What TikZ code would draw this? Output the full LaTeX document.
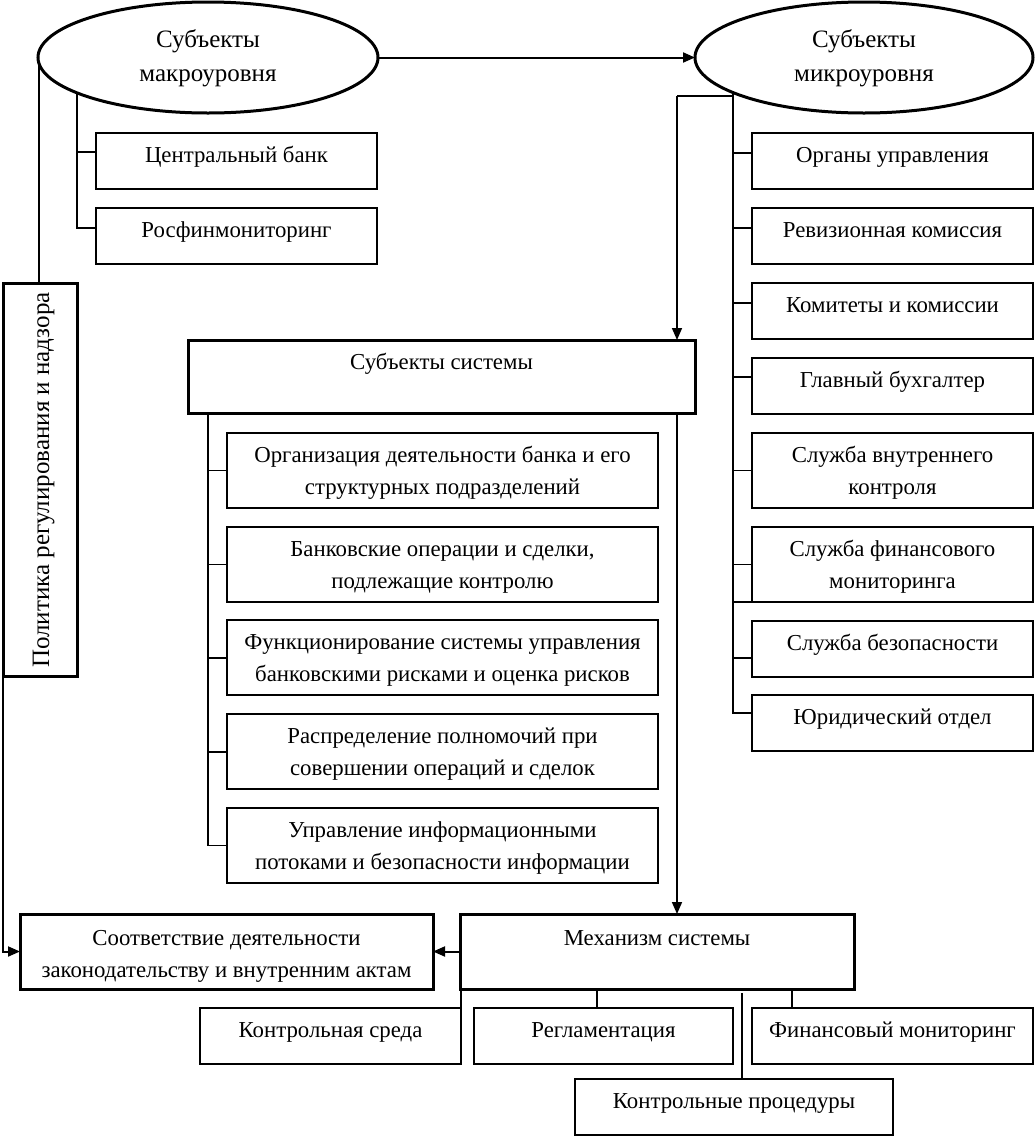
\documentclass[tikz,border=0pt]{standalone}
\usepackage{fontspec}
\setmainfont{Liberation Serif}
\usetikzlibrary{arrows.meta,shapes.geometric}
\newcommand\mkbox[6]{%
  \node[#1, minimum width={(#5)-(#3)}, minimum height={(#6)-(#4)}] (#2) at ({((#3)+(#5))/2},{((#4)+(#6))/2}) {};}
\begin{document}
\begin{tikzpicture}[x=1pt,y=-1pt,
  box/.style={draw, rectangle, line width=1.8pt, inner sep=0pt, outer sep=0pt},
  tbox/.style={box, line width=3pt},
  ell/.style={draw, ellipse, line width=3pt, inner sep=0pt, outer sep=0pt, align=center,
    minimum height=111pt, font=\fontsize{25}{34}\selectfont},
  lbl/.style={inner sep=0pt, align=center, font=\fontsize{22.8}{32}\selectfont},
  ln/.style={line width=2pt},
  thinln/.style={line width=1.2pt},
  arr/.style={line width=2pt, -{Triangle[length=12pt,width=10pt]}}]
\useasboundingbox (0,0) rectangle (1035,1136);

% ellipses
\node[ell, minimum width=340pt] (mac) at (208,57.5) {\strut Субъекты\\\strut макроуровня};
\node[ell, minimum width=338pt] (mic) at (864,57.5) {\strut Субъекты\\\strut микроуровня};

% macro level boxes
\mkbox{box}{cb}{96}{133}{377}{189}
\mkbox{box}{rfm}{96}{208}{377}{264}
\mkbox{tbox}{pol}{3}{283}{77}{676}

% micro level boxes
\mkbox{box}{org}{752}{133}{1033}{189}
\mkbox{box}{rev}{752}{208}{1033}{264}
\mkbox{box}{kom}{752}{283}{1033}{339}
\mkbox{box}{gb}{752}{358}{1033}{414}
\mkbox{box}{svk}{752}{433}{1033}{508}
\mkbox{box}{sfm}{752}{527}{1033}{602}
\mkbox{box}{sb}{752}{621}{1033}{677}
\mkbox{box}{jur}{752}{695}{1033}{751}

% system subjects
\mkbox{tbox}{sub}{188}{340}{695}{413}
\mkbox{box}{b1}{227}{433}{658}{508}
\mkbox{box}{b2}{227}{527}{658}{602}
\mkbox{box}{b3}{227}{620}{658}{695}
\mkbox{box}{b4}{227}{714}{658}{789}
\mkbox{box}{b5}{227}{808}{658}{883}

% bottom
\mkbox{tbox}{sootv}{20}{914}{433}{989}
\mkbox{tbox}{mech}{460}{914}{854}{989}
\mkbox{box}{ks}{200}{1008}{461}{1064}
\mkbox{box}{reg}{474}{1008}{733}{1064}
\mkbox{box}{fin}{752}{1008}{1033}{1064}
\mkbox{box}{kp}{575}{1079}{893}{1135}

% labels
\node[lbl] (cb-t) at (236.5,156) {\strut Центральный банк};
\node[lbl] (rfm-t) at (236.5,231) {\strut Росфинмониторинг};
\node[inner sep=0pt, rotate=90, anchor=base, font=\fontsize{25}{30}\selectfont] (pol-t) at (49,480) {Политика регулирования и надзора};

\node[lbl] (org-t) at (892.5,156) {\strut Органы управления};
\node[lbl] (rev-t) at (892.5,231) {\strut Ревизионная комиссия};
\node[lbl] (kom-t) at (892.5,306) {\strut Комитеты и комиссии};
\node[lbl] (gb-t) at (892.5,381) {\strut Главный бухгалтер};
\node[lbl] (svk-t) at (892.5,472.5) {\strut Служба внутреннего\\\strut контроля};
\node[lbl] (sfm-t) at (892.5,566.5) {\strut Служба финансового\\\strut мониторинга};
\node[lbl] (sb-t) at (892.5,644) {\strut Служба безопасности};
\node[lbl] (jur-t) at (892.5,718) {\strut Юридический отдел};

\node[lbl] (sub-t) at (441.5,363) {\strut Субъекты системы};
\node[lbl] (b1-t) at (442.5,472.5) {\strut Организация деятельности банка и его\\\strut структурных подразделений};
\node[lbl] (b2-t) at (442.5,566.5) {\strut Банковские операции и сделки,\\\strut подлежащие контролю};
\node[lbl] (b3-t) at (442.5,659.5) {\strut Функционирование системы управления\\\strut банковскими рисками и оценка рисков};
\node[lbl] (b4-t) at (442.5,753.5) {\strut Распределение полномочий при\\\strut совершении операций и сделок};
\node[lbl] (b5-t) at (442.5,847.5) {\strut Управление информационными\\\strut потоками и безопасности информации};

\node[lbl] (sootv-t) at (226.5,955) {\strut Соответствие деятельности\\\strut законодательству и внутренним актам};
\node[lbl] (mech-t) at (657,939) {\strut Механизм системы};
\node[lbl] (ks-t) at (330.5,1031) {\strut Контрольная среда};
\node[lbl] (reg-t) at (603.5,1031) {\strut Регламентация};
\node[lbl] (fin-t) at (892.5,1031) {\strut Финансовый мониторинг};
\node[lbl] (kp-t) at (734,1102) {\strut Контрольные процедуры};

% connectors: top
\draw[arr] (mac.east) -- (mic.west);
\coordinate (mL) at (77,93);
\draw[ln] (mL) |- ([yshift=9pt]cb.west);
\draw[ln] (mL) |- ([yshift=8pt]rfm.west);
\coordinate (pL) at (39,63);
\draw[thinln] (pL) -- (pL |- pol.north);

\coordinate (mR) at (733,93);
\draw[ln] (mR) |- ([yshift=8pt]org.west);
\draw[ln] (mR) |- ([yshift=8pt]rev.west);
\draw[ln] (mR) |- ([yshift=8pt]kom.west);
\draw[ln] (mR) |- ([yshift=9pt]gb.west);
\draw[thinln] (mR) |- (svk.west);
\draw[thinln] (mR) |- (sfm.west);
\draw[ln] (mR) |- ([yshift=-9pt]sb.west);
\draw[ln] (mR) |- ([yshift=10pt]jur.west);
\draw[ln] (sfm.south west) -- (sfm.south west -| mR);

\coordinate (jR) at (733,96);
\coordinate (cR) at (677,96);
\draw[thinln] (jR) -- (cR);
\draw[arr, line width=1.6pt] (cR) -- (cR |- sub.north);
\draw[arr, line width=1.6pt] (sub.south -| cR) -- (mech.north -| cR);

% system subjects trunk
\coordinate (sL) at (208,413);
\draw[thinln] (sL) |- (b5.west);
\draw[thinln] (sL |- b1.west) -- (b1.west);
\draw[thinln] (sL |- b2.west) -- (b2.west);
\draw[ln] (sL |- b3.west) -- (b3.west);
\draw[ln] (sL |- b4.west) -- (b4.west);

% bottom connectors
\draw[arr] (mech.west) -- (sootv.east);
\draw[arr] (pol.south west) |- (sootv.west);
\draw[ln] (ks.north east) -- (ks.north east |- mech.south);
\coordinate (x1) at (597,989);
\draw[thinln] (x1) -- (x1 |- reg.north);
\coordinate (x2) at (792,989);
\draw[ln] (x2) -- (x2 |- fin.north);
\coordinate (x3) at (742,993);
\draw[ln] (x3) -- (x3 |- kp.north);
\end{tikzpicture}
\end{document}
